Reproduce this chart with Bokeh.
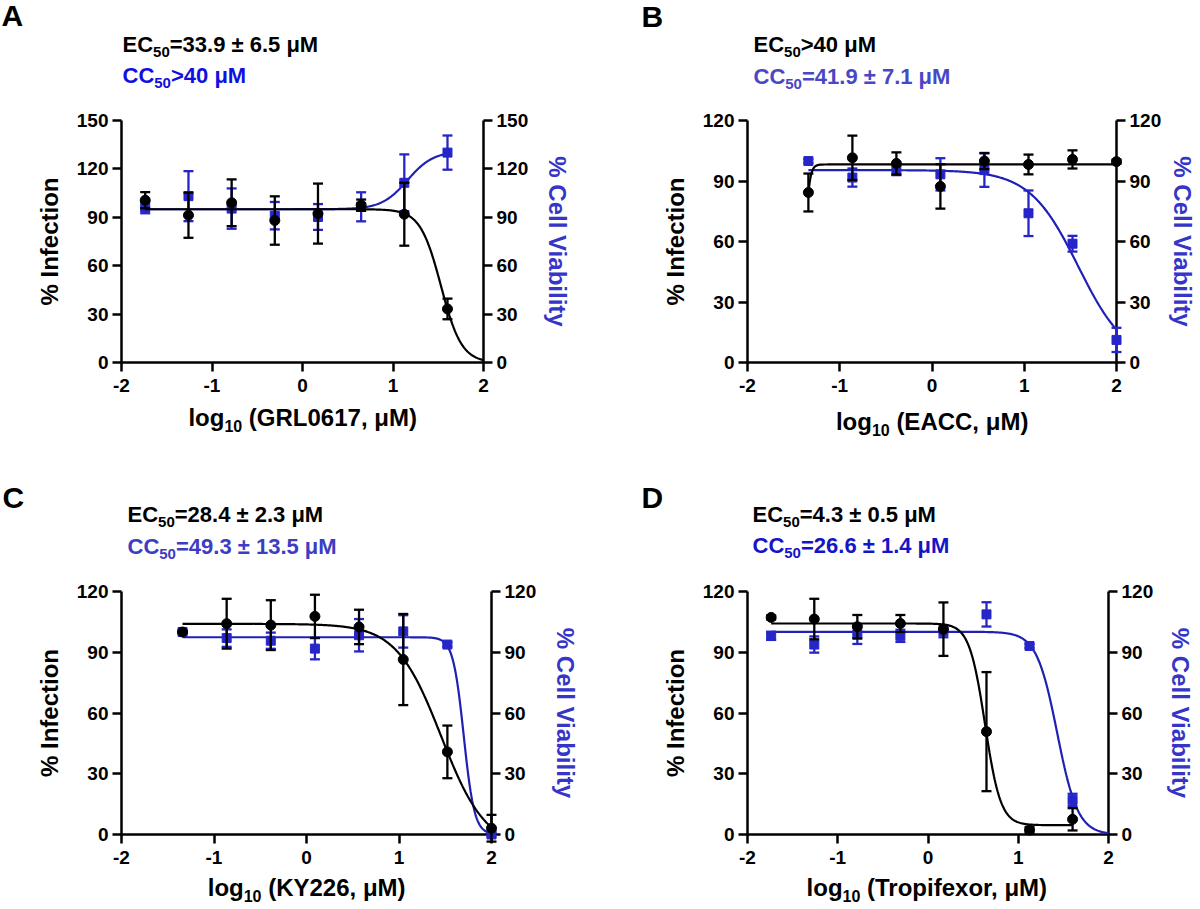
import math
import numpy as np
from bokeh.plotting import figure
from bokeh.models import Range1d, LinearAxis, FixedTicker
from bokeh.core.properties import value
from bokeh.layouts import row, column
from bokeh.embed import file_html
from bokeh.resources import INLINE

FONT = "Liberation Sans"
BLACK = "#000000"
BLUE = "#2626c8"
BLUE_LINE = "#2020b4"

X_TICKS = [-2, -1, 0, 1, 2]

# ---------------- data ----------------
# Panel A : GRL0617
a_x = [-1.738, -1.260, -0.783, -0.306, 0.171, 0.648, 1.125, 1.602]
a_inf = [100.6, 91.3, 99.0, 88.0, 92.3, 97.5, 91.9, 33.2]
a_inf_sd = [5.0, 14.0, 14.5, 15.0, 18.6, 3.5, 19.5, 6.4]
a_cv = [96.0, 103.1, 95.4, 91.0, 90.2, 96.5, 111.4, 130.1]
a_cv_sd = [3.5, 15.5, 12.5, 8.5, 8.0, 9.0, 17.6, 10.6]
# fitted 4PL parameters: bottom, top, logEC50, hill
a_inf_fit = [0.0, 95.0, 1.530, -3.8]
a_cv_fit = [95.0, 131.0, 1.160, 3.05]
a_inf_span = [-1.738, 2.0]
a_cv_span = [-1.738, 1.602]

# Panel B : EACC
b_x = [-1.340, -0.863, -0.386, 0.091, 0.568, 1.046, 1.523, 2.000]
b_inf = [84.3, 101.5, 98.7, 87.3, 99.9, 98.2, 100.7, 99.6]
b_inf_sd = [9.4, 11.0, 5.5, 11.0, 4.0, 4.9, 4.5, 1.0]
b_cv = [99.9, 91.7, 95.4, 93.3, 95.4, 74.0, 58.9, 11.2]
b_cv_sd = [1.0, 4.5, 2.5, 8.0, 8.3, 11.3, 3.9, 6.0]
b_inf_fit = [0.0, 98.2, -1.385, 17.0]
b_cv_fit = [0.0, 95.4, 1.585, -1.65]
b_inf_span = [-1.340, 2.0]
b_cv_span = [-1.340, 2.0]

# Panel C : KY226
c_x = [-1.340, -0.863, -0.386, 0.091, 0.568, 1.046, 1.523, 2.000]
c_inf = [100.0, 104.1, 103.4, 107.7, 102.5, 86.4, 40.8, 3.1]
c_inf_sd = [0.5, 12.3, 12.3, 10.7, 8.5, 22.5, 13.0, 6.6]
c_cv = [100.0, 97.0, 95.7, 91.8, 98.4, 100.3, 93.8, 0.0]
c_cv_sd = [0.5, 4.3, 4.0, 5.3, 8.0, 8.0, 1.0, 1.0]
c_inf_fit = [-7.0, 104.0, 1.456, -1.8]
c_cv_fit = [0.0, 97.4, 1.700, -7.5]
c_inf_span = [-1.340, 2.0]
c_cv_span = [-1.340, 2.0]

# Panel D : Tropifexor
d_x = [-1.738, -1.260, -0.783, -0.306, 0.171, 0.648, 1.125, 1.602]
d_inf = [107.2, 106.4, 102.6, 104.2, 101.4, 50.8, 2.2, 7.5]
d_inf_sd = [1.0, 10.0, 5.8, 4.2, 13.2, 29.4, 1.5, 5.5]
d_cv = [98.1, 93.8, 98.8, 98.1, 100.4, 108.7, 93.1, 17.1]
d_cv_sd = [2.0, 4.0, 4.7, 3.0, 3.0, 6.0, 1.0, 3.0]
d_inf_fit = [4.6, 104.2, 0.632, -5.0]
d_cv_fit = [0.0, 100.1, 1.432, -3.8]
d_inf_span = [-1.738, 1.602]
d_cv_span = [-1.738, 2.0]

# texts
letters = ["A", "B", "C", "D"]
ec_texts = ["=33.9 \u00b1 6.5 \u03bcM", ">40 \u03bcM", "=28.4 \u00b1 2.3 \u03bcM", "=4.3 \u00b1 0.5 \u03bcM"]
cc_texts = [">40 \u03bcM", "=41.9 \u00b1 7.1 \u03bcM", "=49.3 \u00b1 13.5 \u03bcM", "=26.6 \u00b1 1.4 \u03bcM"]
compounds = ["GRL0617", "EACC", "KY226", "Tropifexor"]
cc_colors = ["#1010e0", "#4848c4", "#3c3cc4", "#1414c8"]
y_label_left = "% Infection"
y_label_right = "% Cell Viability"

# ---------------- helpers ----------------
ADV = {' ': 278, '%': 889, '(': 333, ')': 333, ',': 278, '.': 278, '-': 333, '=': 584,
       '>': 584, '\u00b1': 549, '\u03bc': 600,
       'A': 722, 'B': 722, 'C': 722, 'D': 722, 'E': 667, 'F': 611, 'G': 778, 'I': 278,
       'K': 722, 'L': 611, 'M': 833, 'R': 722, 'T': 611, 'V': 667, 'Y': 667,
       'a': 556, 'b': 611, 'c': 556, 'e': 556, 'f': 333, 'g': 611, 'i': 278, 'l': 278,
       'n': 611, 'o': 611, 'p': 611, 'r': 389, 't': 333, 'x': 556, 'y': 556}

BASE_SHIFT = 0.33   # observed offset of the alphabetic baseline, in em


def tw(s, size):
    return sum(ADV.get(ch, 556) for ch in s) * size / 1000.0


def logistic(x, bottom, top, logec, hill):
    return bottom + (top - bottom) / (1.0 + 10.0 ** ((logec - x) * hill))


def add_text(p, frame, ymax, text, sx, sy, size, color, angle=0.0,
             align="left", baseline="alphabetic"):
    fl, ft, fr, fb = frame
    if baseline == "alphabetic":
        sy = sy - BASE_SHIFT * size
    xd = -2.0 + (sx - fl) / float(fr - fl) * 4.0
    yd = ymax * (fb - sy) / float(fb - ft)
    p.text(x=[xd], y=[yd], text=[text], text_font=value(FONT),
           text_font_size=value(f"{size}px"), text_font_style="bold",
           text_color=color, text_align=align, text_baseline=baseline,
           angle=angle, level="overlay")


def add_sub_text(p, frame, ymax, parts, sx, sy, size, subsize, color, suboff, gap=0.0):
    main1, sub, main2 = parts
    add_text(p, frame, ymax, main1, sx, sy, size, color)
    x2 = sx + tw(main1, size)
    add_text(p, frame, ymax, sub, x2, sy + suboff, subsize, color)
    x3 = x2 + tw(sub, subsize) + gap
    add_text(p, frame, ymax, main2, x3, sy, size, color)


def draw_series(p, xs, ys, sds, fit, span, color, line_color, marker, msize):
    xc = np.linspace(span[0], span[1], 400)
    yc = logistic(xc, *fit)
    p.line(xc, yc, line_color=line_color, line_width=2.2, level="overlay")
    lo = [y - s for y, s in zip(ys, sds)]
    hi = [y + s for y, s in zip(ys, sds)]
    p.segment(x0=xs, y0=lo, x1=xs, y1=hi, line_color=color, line_width=2.3, level="overlay")
    p.scatter(xs, hi, marker="dash", size=10, line_color=color, line_width=2.3, level="overlay")
    p.scatter(xs, lo, marker="dash", size=10, line_color=color, line_width=2.3, level="overlay")
    p.scatter(xs, ys, marker=marker, size=msize, fill_color=color, line_color=color,
              level="overlay")


def style_axis(ax, standoff):
    ax.axis_line_width = 2.5
    ax.axis_line_color = BLACK
    ax.major_tick_line_width = 2.5
    ax.major_tick_line_color = BLACK
    ax.major_tick_out = 9
    ax.major_tick_in = 0
    ax.minor_tick_line_color = None
    ax.major_label_text_font = FONT
    ax.major_label_text_font_size = "19px"
    ax.major_label_text_font_style = "bold"
    ax.major_label_text_color = BLACK
    ax.major_label_standoff = standoff


def build(i, fig, frame, ymax, yticks, letter_pos, ec_pos, cc_pos, xlab_base,
          right_anchor, series):
    ox, oy, W, H = fig
    fl, ft, fr, fb = frame
    p = figure(width=W, height=H, x_range=Range1d(-2, 2), y_range=Range1d(0, ymax),
               output_backend="svg", toolbar_location=None,
               min_border_left=fl - ox, min_border_right=ox + W - fr,
               min_border_top=ft - oy, min_border_bottom=oy + H - fb)
    p.extra_y_ranges = {"right": Range1d(0, ymax)}
    p.outline_line_color = None
    p.xgrid.visible = False
    p.ygrid.visible = False
    p.background_fill_color = "white"
    p.border_fill_color = "white"
    right = LinearAxis(y_range_name="right")
    p.add_layout(right, "right")
    style_axis(p.xaxis[0], 7)
    style_axis(p.yaxis[0], 4)
    style_axis(right, 4)
    p.xaxis[0].ticker = FixedTicker(ticks=X_TICKS)
    p.xaxis[0].major_label_overrides = {-2: "-2", -1: "-1", 0: "0", 1: "1", 2: "2"}
    p.yaxis[0].ticker = FixedTicker(ticks=yticks)
    right.ticker = FixedTicker(ticks=yticks)

    for (xs, ys, sds, fit, span, color, lcolor, marker, msize) in series:
        draw_series(p, xs, ys, sds, fit, span, color, lcolor, marker, msize)

    # panel letter
    add_text(p, frame, ymax, letters[i], letter_pos[0], letter_pos[1], 30, BLACK)
    # EC50 / CC50 lines
    add_sub_text(p, frame, ymax, ("EC", "50", ec_texts[i]), ec_pos[0], ec_pos[1],
                 22, 15, BLACK, 5)
    add_sub_text(p, frame, ymax, ("CC", "50", cc_texts[i]), cc_pos[0], cc_pos[1],
                 22, 15, cc_colors[i], 5)
    # x axis label: log10 (compound, uM)
    tail = "(" + compounds[i] + ", \u03bcM)"
    gap = tw(" ", 24)
    total = tw("log", 24) + tw("10", 16) + gap + tw(tail, 24)
    cx = (fl + fr) / 2.0
    add_sub_text(p, frame, ymax, ("log", "10", tail), cx - total / 2.0, xlab_base,
                 24, 16, BLACK, 6, gap)
    # y axis labels
    cy = (ft + fb) / 2.0
    add_text(p, frame, ymax, y_label_left, fl - 72, cy, 24, BLACK, angle=math.pi / 2,
             align="center", baseline="middle")
    add_text(p, frame, ymax, y_label_right, right_anchor, cy, 24, "#3535c8",
             angle=-math.pi / 2, align="center", baseline="middle")
    return p


TICKS_150 = [0, 30, 60, 90, 120, 150]
TICKS_120 = [0, 30, 60, 90, 120]

pA = build(0, (0, 0, 598, 463), (121, 120, 483, 362), 150, TICKS_150,
           (1, 25), (122, 51), (122, 82), 425, 557,
           [(a_x, a_cv, a_cv_sd, a_cv_fit, a_cv_span, BLUE, BLUE_LINE, "square", 9),
            (a_x, a_inf, a_inf_sd, a_inf_fit, a_inf_span, BLACK, BLACK, "circle", 10)])
pB = build(1, (598, 0, 598, 463), (747, 120, 1116, 362), 120, TICKS_120,
           (641, 26), (753, 51), (753, 83), 429, 1182,
           [(b_x, b_cv, b_cv_sd, b_cv_fit, b_cv_span, BLUE, BLUE_LINE, "square", 9),
            (b_x, b_inf, b_inf_sd, b_inf_fit, b_inf_span, BLACK, BLACK, "circle", 10)])
pC = build(2, (0, 463, 598, 444), (121, 591, 491, 834), 120, TICKS_120,
           (2, 507), (127, 521), (127, 553), 895, 565,
           [(c_x, c_cv, c_cv_sd, c_cv_fit, c_cv_span, BLUE, BLUE_LINE, "square", 9),
            (c_x, c_inf, c_inf_sd, c_inf_fit, c_inf_span, BLACK, BLACK, "circle", 10)])
pD = build(3, (598, 463, 598, 444), (747, 591, 1108, 834), 120, TICKS_120,
           (641, 507), (752, 521), (752, 552), 895, 1180,
           [(d_x, d_cv, d_cv_sd, d_cv_fit, d_cv_span, BLUE, BLUE_LINE, "square", 9),
            (d_x, d_inf, d_inf_sd, d_inf_fit, d_inf_span, BLACK, BLACK, "circle", 10)])

layout = column(row(pA, pB), row(pC, pD))
open("out.html", "w").write(file_html(layout, INLINE))
